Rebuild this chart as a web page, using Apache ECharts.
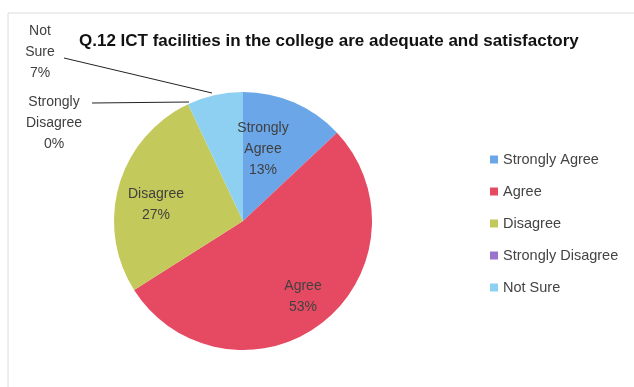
<!DOCTYPE html>
<html>
<head>
<meta charset="utf-8">
<script src="https://cdn.jsdelivr.net/npm/echarts@6/dist/echarts.min.js"></script>
<style>
html,body{margin:0;padding:0;background:#fff;}
#chart{width:634px;height:387px;}
</style>
</head>
<body>
<div id="chart"></div>
<script>
const titleText = 'Q.12 ICT facilities in the college are adequate and satisfactory';
const categories = ['Strongly Agree', 'Agree', 'Disagree', 'Strongly Disagree', 'Not Sure'];
const percentValues = [13, 53, 27, 0, 7];
const sliceColors = ['#6aa6e8', '#e64a62', '#c3c95a', '#9a72cf', '#8dd0f2'];
const labelNames = ['Strongly\nAgree', 'Agree', 'Disagree', 'Strongly\nDisagree', 'Not\nSure'];

const chart = echarts.init(document.getElementById('chart'));
const FONT = 'Liberation Sans';

// label placement (x, y centre) for each slice
const labelPos = [[263, 149], [303, 297], [156, 205], [54, 123], [40, 52]];

const option = {
  animation: false,
  title: {
    text: titleText,
    left: 74, top: 28,
    textStyle: { fontFamily: FONT, fontWeight: 'bold', fontSize: 17, color: '#111' }
  },
  legend: {
    orient: 'vertical',
    left: 485, top: 147,
    itemWidth: 8, itemHeight: 8, itemGap: 17,
    icon: 'rect',
    textStyle: { fontFamily: FONT, fontSize: 14.5, color: '#444' },
    data: categories
  },
  graphic: [
    { type: 'line', shape: { x1: 8, y1: 13, x2: 634, y2: 13 }, style: { stroke: '#dcdcdc', lineWidth: 1 } },
    { type: 'line', shape: { x1: 8, y1: 13, x2: 8, y2: 387 }, style: { stroke: '#dcdcdc', lineWidth: 1 } }
  ],
  series: [{
    type: 'pie',
    center: [243, 221],
    radius: 129,
    startAngle: 90,
    clockwise: true,
    minShowLabelAngle: 0,
    avoidLabelOverlap: false,
    data: categories.map((c, i) => ({
      name: c,
      value: percentValues[i],
      itemStyle: { color: sliceColors[i] },
      label: {
        position: i >= 3 ? 'outside' : 'inside',
        formatter: labelNames[i] + '\n' + percentValues[i] + '%'
      },
      labelLine: { show: i >= 3 }
    })),
    label: {
      fontFamily: FONT, fontSize: 14, color: '#404040', lineHeight: 21, align: 'center'
    },
    labelLine: { lineStyle: { color: '#222', width: 1 }, length: 10, length2: 10, smooth: false },
    labelLayout: function (p) {
      const i = p.dataIndex;
      const pos = labelPos[i];
      const res = { x: pos[0], y: pos[1], align: 'center', verticalAlign: 'middle' };
      if (i === 4) {
        res.labelLinePoints = [[212, 93], [64, 58], [64, 58]];
      } else if (i === 3) {
        res.labelLinePoints = [[189, 102], [92, 103], [92, 103]];
      }
      return res;
    },
    itemStyle: { borderWidth: 0 },
    emphasis: { disabled: true }
  }]
};
chart.setOption(option);
</script>
</body>
</html>
